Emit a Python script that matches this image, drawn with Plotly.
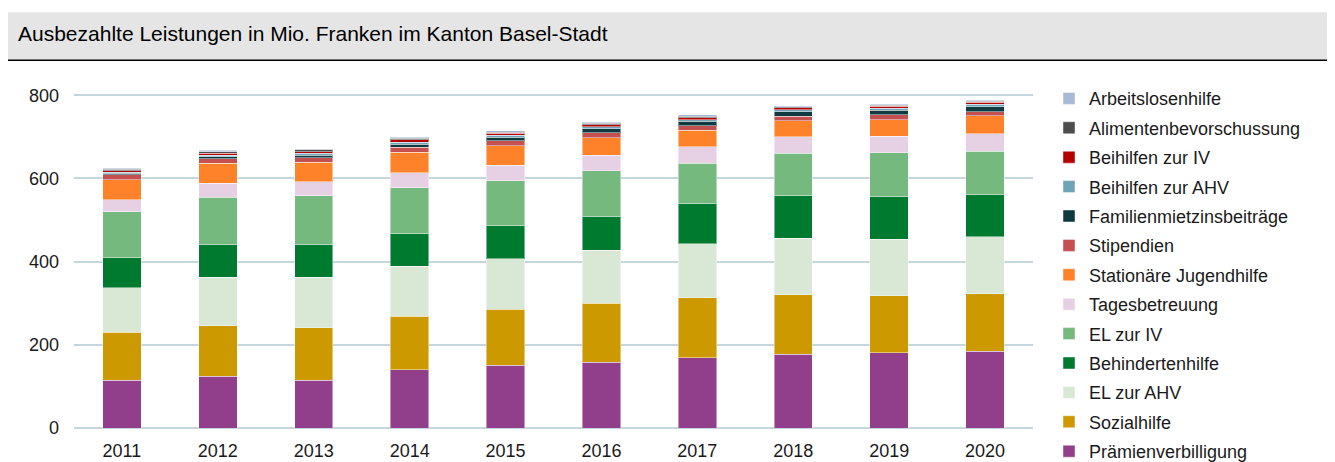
import plotly.graph_objects as go

years = ["2011", "2012", "2013", "2014", "2015", "2016", "2017", "2018", "2019", "2020"]

# Stack order bottom -> top
praemien = [114.4, 124.8, 115.2, 140.0, 151.2, 158.4, 168.8, 177.6, 180.8, 184.8]
sozialhilfe = [115.2, 121.6, 125.6, 128.8, 134.4, 141.6, 144.8, 142.4, 137.6, 137.6]
el_ahv = [108.0, 116.0, 121.6, 120.0, 120.8, 127.2, 128.8, 136.0, 135.2, 136.8]
behinderten = [72.0, 79.2, 79.2, 78.4, 80.0, 81.6, 97.6, 102.4, 104.0, 102.4]
el_iv = [110.4, 112.8, 116.8, 110.4, 108.0, 109.6, 96.0, 101.6, 104.0, 103.2]
tages = [28.8, 33.6, 33.6, 36.0, 36.8, 37.6, 40.0, 40.0, 40.0, 42.4]
jugendhilfe = [48.0, 48.8, 47.2, 49.6, 47.2, 41.6, 39.2, 38.4, 40.0, 43.2]
stipendien = [12.0, 10.4, 10.4, 11.2, 12.0, 12.0, 11.2, 11.2, 11.2, 10.4]
familien = [3.0, 5.0, 6.0, 8.0, 8.0, 10.0, 10.4, 11.2, 11.2, 12.0]
beih_ahv = [3.0, 4.0, 5.0, 5.0, 5.0, 4.0, 4.8, 4.8, 4.8, 5.6]
beih_iv = [4.0, 4.0, 4.0, 5.0, 5.0, 5.0, 4.8, 4.8, 4.8, 4.8]
alimente = [3.0, 4.0, 4.0, 4.0, 3.0, 4.0, 3.2, 2.4, 2.4, 2.4]
arbeitslos = [3.0, 3.0, 3.0, 2.4, 3.0, 2.4, 3.2, 2.4, 2.4, 2.4]

series = [
    ("Prämienverbilligung", praemien, "#923f8b"),
    ("Sozialhilfe", sozialhilfe, "#cc9900"),
    ("EL zur AHV", el_ahv, "#d8e8d4"),
    ("Behindertenhilfe", behinderten, "#007a2f"),
    ("EL zur IV", el_iv, "#75b97e"),
    ("Tagesbetreuung", tages, "#e6d0e3"),
    ("Stationäre Jugendhilfe", jugendhilfe, "#fe822a"),
    ("Stipendien", stipendien, "#c55050"),
    ("Familienmietzinsbeiträge", familien, "#0f3a40"),
    ("Beihilfen zur AHV", beih_ahv, "#6fa3b5"),
    ("Beihilfen zur IV", beih_iv, "#b50000"),
    ("Alimentenbevorschussung", alimente, "#4d4d4d"),
    ("Arbeitslosenhilfe", arbeitslos, "#a9b9d6"),
]

fig = go.Figure()
n = len(series)
for i, (name, vals, col) in enumerate(series):
    fig.add_trace(go.Bar(
        x=years, y=vals, name=name, legendgroup=name, legendrank=n - i,
        marker=dict(color=col, line=dict(color="rgba(255,255,255,0.45)", width=1)),
    ))

FONT = "Liberation Sans, Arial, sans-serif"
OFF = 8  # page body margin
EXTRA = 30  # extra figure height below the visible window so the legend is not clamped
PX_PER_UNIT = (427.7 - 95.0) / 800.0
ZERO_PAGE = 427.7
TOP_PAGE = 90.8
YMAX = (ZERO_PAGE - TOP_PAGE) / PX_PER_UNIT

W, H = 1335 - OFF, 462 - OFF + EXTRA
L = 74 - OFF
R = W - (1033 - OFF)
T = TOP_PAGE - OFF
B = H - (ZERO_PAGE - OFF)
pw, ph = W - L - R, H - T - B

def px_x(p):  # page pixel -> paper
    return (p - OFF - L) / pw

def px_y(p):
    return (H - B - (p - OFF)) / ph

fig.update_layout(
    width=W, height=H,
    margin=dict(l=L, r=R, t=T, b=B),
    barmode="stack", bargap=0.6,
    plot_bgcolor="white", paper_bgcolor="white",
    font=dict(family=FONT, size=18, color="#1a1a1a"),
    xaxis=dict(showgrid=False, showline=False, ticks="", tickfont=dict(size=18),
               ticklabelstandoff=10, automargin=False),
    yaxis=dict(range=[0, YMAX], tickvals=[0, 200, 400, 600, 800],
               showgrid=True, gridcolor="#c5d6df", gridwidth=1.5,
               zeroline=True, zerolinecolor="#c5d6df", zerolinewidth=1.5,
               ticks="", ticklabelstandoff=14, tickfont=dict(size=18),
               automargin=False),
    legend=dict(traceorder="grouped", x=px_x(1049), xanchor="left",
                y=px_y(80), yanchor="top", tracegroupgap=3, maxheight=600,
                bgcolor="rgba(0,0,0,0)",
                font=dict(size=18, color="#1a1a1a"), itemwidth=30),
    shapes=[
        dict(type="rect", xref="paper", yref="paper",
             x0=px_x(8), x1=px_x(1340), y0=px_y(60), y1=px_y(12),
             fillcolor="#e5e5e5", line=dict(width=0), layer="below"),
        dict(type="line", xref="paper", yref="paper",
             x0=px_x(8), x1=px_x(1340), y0=px_y(60), y1=px_y(60),
             line=dict(color="#000000", width=1.5)),
    ],
    annotations=[
        dict(text="Ausbezahlte Leistungen in Mio. Franken im Kanton Basel-Stadt",
             xref="paper", yref="paper", x=px_x(16), y=px_y(33),
             xanchor="left", yanchor="middle", showarrow=False,
             font=dict(family=FONT, size=21, color="#000000")),
    ],
)

fig.write_html("out.html")
